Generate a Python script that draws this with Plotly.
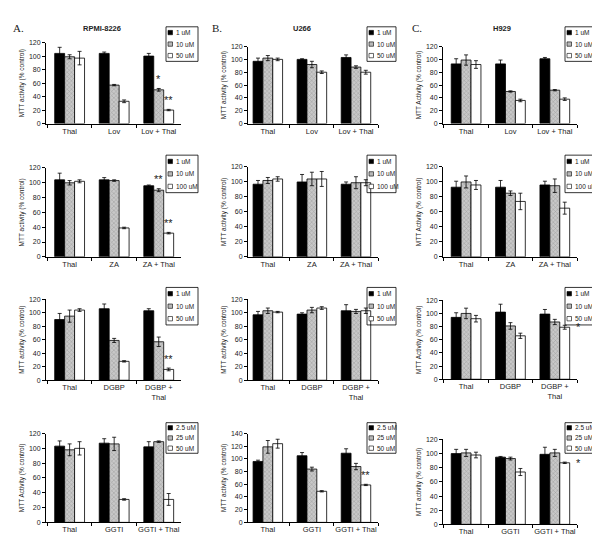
import plotly.graph_objects as go

# the page body has an 8px margin, so the figure is drawn 8px smaller and
# all pixel positions below are given in the 600x555 window frame
W, H = 600, 555
OFF = 8
FW, FH = W - OFF, H - OFF

cells = ["RPMI-8226", "U266", "H929"]
letters = ["A.", "B.", "C."]
row_cats = [
    ["Thal", "Lov", "Lov + Thal"],
    ["Thal", "ZA", "ZA + Thal"],
    ["Thal", "DGBP", "DGBP +<br>Thal"],
    ["Thal", "GGTI", "GGTI + Thal"],
]
row_doses = [
    ["1 uM", "10 uM", "50 uM"],
    ["1 uM", "10 uM", "100 uM"],
    ["1 uM", "10 uM", "50 uM"],
    ["2.5 uM", "25 uM", "50 uM"],
]

# means: one row per dose, columns = categories
lov_rpmi = [[104, 104, 100], [99, 57, 50], [97, 33, 20]]
lov_rpmi_err = [[9, 2, 4], [3, 1, 2], [10, 2, 1]]
lov_u266 = [[97, 100, 103], [102, 92, 88], [100, 80, 80]]
lov_u266_err = [[5, 1, 4], [4, 5, 2], [2, 2, 3]]
lov_h929 = [[93, 93, 101], [99, 50, 52], [92, 36, 38]]
lov_h929_err = [[8, 6, 2], [8, 1, 1], [6, 2, 2]]

za_rpmi = [[104, 104, 96], [100, 103, 90], [102, 39, 32]]
za_rpmi_err = [[9, 3, 1], [3, 1, 2], [2, 1, 1]]
za_u266 = [[97, 100, 97], [102, 104, 99], [104, 104, 99]]
za_u266_err = [[5, 10, 3], [4, 9, 8], [3, 10, 4]]
za_h929 = [[93, 93, 96], [100, 85, 95], [96, 74, 65]]
za_h929_err = [[8, 9, 5], [8, 3, 9], [6, 11, 8]]

dgbp_rpmi = [[90, 106, 103], [95, 59, 57], [104, 28, 16]]
dgbp_rpmi_err = [[9, 7, 3], [9, 3, 7], [2, 1, 2]]
dgbp_u266 = [[97, 98, 103], [103, 104, 102], [101, 107, 103]]
dgbp_u266_err = [[5, 2, 9], [4, 4, 3], [1, 2, 4]]
dgbp_h929 = [[94, 102, 99], [100, 81, 87], [92, 66, 79]]
dgbp_h929_err = [[7, 12, 7], [8, 5, 4], [5, 4, 3]]

ggti_rpmi = [[103, 107, 102], [98, 106, 109], [100, 31, 31]]
ggti_rpmi_err = [[7, 6, 7], [8, 9, 1], [9, 1, 8]]
ggti_u266 = [[96, 105, 109], [119, 84, 88], [124, 49, 59]]
ggti_u266_err = [[2, 5, 7], [10, 3, 5], [7, 1, 1]]
ggti_h929 = [[100, 95, 99], [101, 93, 101], [98, 74, 87]]
ggti_h929_err = [[6, 1, 10], [5, 2, 5], [4, 5, 1]]

panels = [
    [(lov_rpmi, lov_rpmi_err), (lov_u266, lov_u266_err), (lov_h929, lov_h929_err)],
    [(za_rpmi, za_rpmi_err), (za_u266, za_u266_err), (za_h929, za_h929_err)],
    [(dgbp_rpmi, dgbp_rpmi_err), (dgbp_u266, dgbp_u266_err), (dgbp_h929, dgbp_h929_err)],
    [(ggti_rpmi, ggti_rpmi_err), (ggti_u266, ggti_u266_err), (ggti_h929, ggti_h929_err)],
]
ytitles = [
    ["MTT activity (% control)", "MTT activity (% control)", "MTT Activity (% control)"],
    ["MTT activity (% control)", "MTT activity (% control)", "MTT Activity (% control)"],
    ["MTT activity (% control)", "MTT activity (% control)", "MTT Activity (% control)"],
    ["MTT Activity (% control)", "MTT activity (% control)", "MTT activity (% control)"],
]
# significance marks: (row, col, category, dose, text, beside)
stars = [
    (0, 0, 2, 1, "*", False), (0, 0, 2, 2, "**", False),
    (1, 0, 2, 1, "**", False), (1, 0, 2, 2, "**", False),
    (2, 0, 2, 2, "**", False), (2, 2, 2, 2, "*", True),
    (3, 1, 2, 2, "**", False), (3, 2, 2, 2, "*", True),
]

# layout geometry in window pixels
col_x = [(46, 181, -0.53), (248, 378, -0.45), (443, 577, -0.52)]
panel_y = [
    [(39, 121), (43, 121), (43, 121)],
    [(166, 256), (165, 256), (165, 256)],
    [(299, 381), (299, 381), (300, 380)],
    [(435, 525), (435, 525), (441, 527)],
]
leg_x = [(166, 198), (367, 396), (565, 596)]
leg_y = [(23, 58), (153, 191), (287, 325), (424, 455)]

TXT = "#222"
fills = ["black", "#b8b8b8", "white"]

def px(x):
    return (x - OFF) / FW

def py(y):
    return 1 - (y - OFF) / FH

fig = go.Figure()
layout = {}
shapes = []
annos = []
bw = (1 - 0.33) / 3

for r in range(4):
    for c in range(3):
        k = r * 3 + c
        sid = "" if k == 0 else str(k + 1)
        means, errs = panels[r][c]
        for d in range(3):
            mk = dict(color=fills[d], line=dict(color="black", width=0.8))
            if d == 1:
                mk["pattern"] = dict(shape="x", size=3, fgcolor="#707070", bgcolor="#c8c8c8", solidity=0.3)
            fig.add_trace(go.Bar(
                x=row_cats[r], y=means[d], name=row_doses[r][d],
                marker=mk, xaxis="x" + sid, yaxis="y" + sid,
                error_y=dict(type="data", array=errs[d], color="black", thickness=0.8, width=2),
                showlegend=False,
            ))
        x0, x1, r0 = col_x[c]
        top, bot = panel_y[r][c]
        ymax = 140 if (r == 3 and c == 1) else 120
        layout["xaxis" + sid] = dict(
            domain=[px(x0), px(x1)], anchor="y" + sid, type="category", range=[r0, 2.5],
            showline=True, linecolor="black", linewidth=1, ticks="outside", tickson="boundaries",
            ticklen=3, tickcolor="black", tickfont=dict(size=7.5, color=TXT), showgrid=False,
            tickangle=0,
        )
        layout["yaxis" + sid] = dict(
            domain=[py(bot), py(top)], anchor="x" + sid, range=[0, ymax], dtick=20,
            showline=True, linecolor="black", linewidth=1, ticks="outside", ticklen=3,
            tickcolor="black", tickfont=dict(size=7, color=TXT), showgrid=False, zeroline=False,
            title=dict(text=ytitles[r][c], font=dict(size=6.5, color=TXT), standoff=3),
        )
        # legend box
        lx0, lx1 = leg_x[c]
        ly0, ly1 = leg_y[r]
        shapes.append(dict(type="rect", xref="paper", yref="paper", x0=px(lx0), x1=px(lx1),
                           y0=py(ly1), y1=py(ly0), line=dict(color="black", width=0.8)))
        step = (ly1 - ly0) / 3
        for d in range(3):
            cy = ly0 + step * (d + 0.5)
            shapes.append(dict(type="rect", xref="paper", yref="paper", x0=px(lx0 + 2), x1=px(lx0 + 6.5),
                               y0=py(cy + 2.2), y1=py(cy - 2.2), fillcolor=fills[d],
                               line=dict(color="black", width=0.6)))
            annos.append(dict(x=px(lx0 + 7.5), y=py(cy), xref="paper", yref="paper", text=row_doses[r][d],
                              showarrow=False, xanchor="left", yanchor="middle",
                              font=dict(size=6.5, color=TXT)))

# significance stars
for r, c, ci, d, txt, beside in stars:
    k = r * 3 + c
    sid = "" if k == 0 else str(k + 1)
    means, errs = panels[r][c]
    xv = ci + (d - 1) * bw + (0.2 if beside else 0)
    yv = means[d][ci] + (0 if beside else errs[d][ci] + 2)
    annos.append(dict(x=xv, y=yv, xref="x" + sid, yref="y" + sid, text=txt, showarrow=False,
                      xanchor="left" if beside else "center", yanchor="middle" if beside else "bottom",
                      font=dict(size=11, color=TXT)))

# column titles and letters
title_x = [102, 302, 502]
letter_x = [18, 217, 417]
for c in range(3):
    annos.append(dict(x=px(title_x[c]), y=py(25), xref="paper", yref="paper", text="<b>%s</b>" % cells[c],
                      showarrow=False, xanchor="center", yanchor="middle", font=dict(size=7.5, color=TXT)))
    annos.append(dict(x=px(letter_x[c]), y=py(24), xref="paper", yref="paper", text=letters[c],
                      showarrow=False, xanchor="center", yanchor="middle",
                      font=dict(size=11, color=TXT, family="Liberation Serif")))

fig.update_layout(
    width=FW, height=FH, margin=dict(l=0, r=0, t=0, b=0),
    paper_bgcolor="white", plot_bgcolor="white",
    barmode="group", bargap=0.33, bargroupgap=0,
    font=dict(family="Liberation Sans", color=TXT),
    showlegend=False, shapes=shapes, annotations=annos,
    **layout,
)
fig.write_html("out.html")
